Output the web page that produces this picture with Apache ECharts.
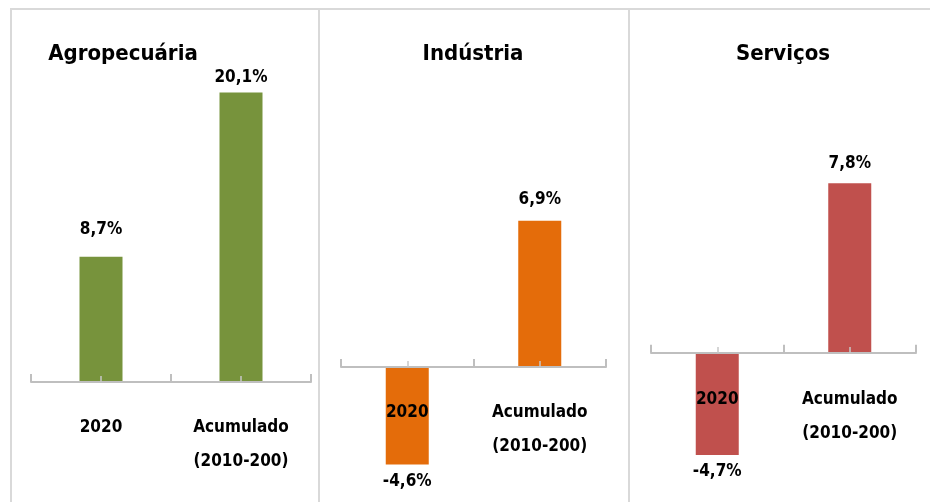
<!DOCTYPE html>
<html>
<head>
<meta charset="utf-8">
<script src="https://cdn.jsdelivr.net/npm/echarts@6/dist/echarts.min.js"></script>
<style>
  html, body { margin: 0; padding: 0; background: #fff; }
  #chart { width: 930px; height: 502px; }
</style>
</head>
<body>
<div id="chart"></div>
<script>
// dados
const categories = ['2020', 'Acumulado\n(2010-200)']
const panelTitles = ['Agropecuária', 'Indústria', 'Serviços']
const agroValues = [8.7, 20.1]
const industriaValues = [-4.6, 6.9]
const servicosValues = [-4.7, 7.8]

const FONT = "'DejaVu Sans Condensed', sans-serif"
const colors = ['#77933C', '#E46C0A', '#C0504D']
// distancia dos rótulos de valor (por barra)
const labelGap = [[19, 6], [9, 13], [8, 11]]

// labelMargin / tickOffset: rótulos e 2º eixo ficam na base do grid, então puxamos para a linha do zero
const panels = [
  { values: agroValues, grid: { left: 31, width: 280, top: 22, height: 360 }, min: 0, max: 25, titleX: 123, labelMargin: 29, tickOffset: 0 },
  { values: industriaValues, grid: { left: 341, width: 265, top: 49, height: 424 }, min: -5, max: 15, titleX: 473, labelMargin: -77, tickOffset: -106 },
  { values: servicosValues, grid: { left: 651, width: 265, top: 135.5, height: 326 }, min: -5, max: 10, titleX: 783, labelMargin: -78.5, tickOffset: -108.5 }
]

const fmt = v => v.toFixed(1).replace('.', ',') + '%'

const option = {
  backgroundColor: '#fff',
  animation: false,
  title: panels.map((p, i) => ({
    text: panelTitles[i],
    left: p.titleX,
    top: 43,
    textAlign: 'center',
    padding: 0,
    textStyle: { fontFamily: FONT, fontSize: 22, fontWeight: 'bold', color: '#000' }
  })),
  grid: panels.map(p => Object.assign({ outerBoundsMode: 'none', containLabel: false }, p.grid)),
  xAxis: [],
  yAxis: panels.map((p, i) => ({
    gridIndex: i,
    type: 'value',
    min: p.min,
    max: p.max,
    show: false,
    splitLine: { show: false }
  })),
  series: panels.map((p, i) => ({
    type: 'bar',
    xAxisIndex: i * 2,
    yAxisIndex: i,
    barWidth: 43,
    itemStyle: { color: colors[i] },
    label: {
      show: true,
      position: 'outside',
      formatter: d => fmt(d.value),
      fontFamily: FONT,
      fontSize: 17,
      fontWeight: 'bold',
      color: '#000'
    },
    data: p.values.map((v, j) => ({ value: v, label: { distance: labelGap[i][j] } }))
  })),
  graphic: [
    { type: 'line', shape: { x1: 10, y1: 9, x2: 930, y2: 9 }, style: { stroke: '#D9D9D9', lineWidth: 2 } },
    { type: 'line', shape: { x1: 11, y1: 9, x2: 11, y2: 502 }, style: { stroke: '#D9D9D9', lineWidth: 2 } },
    { type: 'line', shape: { x1: 319, y1: 9, x2: 319, y2: 502 }, style: { stroke: '#D9D9D9', lineWidth: 2 } },
    { type: 'line', shape: { x1: 629, y1: 9, x2: 629, y2: 502 }, style: { stroke: '#D9D9D9', lineWidth: 2 } }
  ]
}

panels.forEach((p, i) => {
  // eixo com marcas entre as categorias
  option.xAxis.push({
    gridIndex: i,
    type: 'category',
    data: categories,
    position: 'bottom',
    z: 10,
    axisLine: { onZero: true, lineStyle: { color: '#BFBFBF', width: 2 } },
    axisTick: { show: true, inside: true, length: 8, alignWithLabel: false, lineStyle: { color: '#BFBFBF', width: 2 } },
    axisLabel: {
      margin: p.labelMargin,
      interval: 0,
      fontFamily: FONT,
      fontSize: 17,
      fontWeight: 'bold',
      lineHeight: 34,
      color: '#000'
    }
  })
  // marcas no centro das barras
  option.xAxis.push({
    gridIndex: i,
    type: 'category',
    data: categories,
    position: 'bottom',
    offset: p.tickOffset,
    z: 10,
    axisLine: { show: false, onZero: false },
    axisTick: { show: true, inside: true, length: 6, alignWithLabel: true, lineStyle: { color: '#C8C8C8', width: 1.5 } },
    axisLabel: { show: false }
  })
})

const chart = echarts.init(document.getElementById('chart'))
chart.setOption(option)
</script>
</body>
</html>
